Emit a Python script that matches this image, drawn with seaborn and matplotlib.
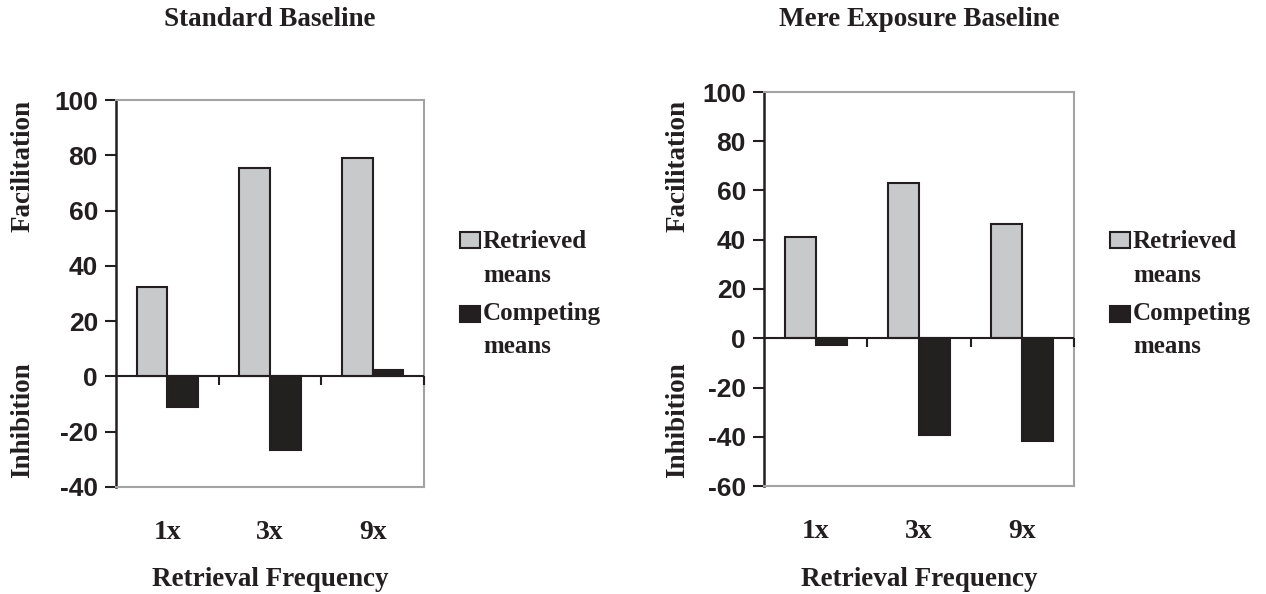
import matplotlib
matplotlib.use("Agg")
import matplotlib.pyplot as plt
import seaborn as sns
import pandas as pd
from matplotlib.patches import Rectangle

# data
frequencies = ["1x", "3x", "9x"]
series = ["Retrieved means", "Competing means"]
standard_retrieved = [32.5, 75.5, 79.0]
standard_competing = [-11.0, -26.5, 2.3]
exposure_retrieved = [41.0, 63.0, 46.3]
exposure_competing = [-2.8, -39.3, -41.8]
titles = ["Standard Baseline", "Mere Exposure Baseline"]
standard_yticks = [-40, -20, 0, 20, 40, 60, 80, 100]
exposure_yticks = [-60, -40, -20, 0, 20, 40, 60, 80, 100]

sns.set_theme(style="white")
plt.rcParams["font.family"] = ["Liberation Serif", "DejaVu Serif"]

INK = "#231f20"
GREY_FILL = "#c8c9cb"
FRAME = "#a3a3a3"
W, H = 1266, 594


def fx(px):
    return px / W


def fy(py):
    return 1 - py / H


def make_df(retrieved, competing):
    rows = []
    for f, r, c in zip(frequencies, retrieved, competing):
        rows.append({"freq": f, "series": series[0], "value": r})
        rows.append({"freq": f, "series": series[1], "value": c})
    return pd.DataFrame(rows)


def draw_panel(ax, df, yticks):
    sns.barplot(data=df, x="freq", y="value", hue="series", order=frequencies,
                hue_order=series, palette={series[0]: GREY_FILL, series[1]: INK},
                width=0.6, edgecolor=INK, linewidth=1.5, legend=False,
                errorbar=None, ax=ax)
    ax.set_xlim(-0.5, 2.5)
    ax.set_ylim(yticks[0], yticks[-1])
    ax.set_yticks(yticks)
    ax.set_yticklabels([str(t) for t in yticks], family="Liberation Sans",
                       fontweight="bold", fontsize=19, color=INK)
    ax.tick_params(axis="y", direction="out", length=8, width=1.5, color=INK,
                   pad=5, left=True)
    ax.set_xticks(range(len(frequencies)))
    ax.set_xticklabels(frequencies, fontweight="bold", fontsize=20, color=INK)
    ax.tick_params(axis="x", length=0, pad=24)
    ax.set_xlabel("")
    ax.set_ylabel("")
    for side in ["top", "right", "bottom"]:
        ax.spines[side].set_color(FRAME)
        ax.spines[side].set_linewidth(1.5)
        ax.spines[side].set_visible(True)
    ax.spines["left"].set_color(INK)
    ax.spines["left"].set_linewidth(1.8)
    ax.spines["left"].set_visible(True)
    # zero line with category-boundary ticks
    ax.axhline(0, color=INK, linewidth=1.5, zorder=3)
    span = yticks[-1] - yticks[0]
    tick_len = span * 9 / 390
    ax.vlines([0.5, 1.5, 2.5], 0, -tick_len, color=INK, linewidth=1.5,
              clip_on=False, zorder=3)


fig = plt.figure(figsize=(12.66, 5.94), dpi=100)
ax1 = fig.add_axes([fx(116), fy(487), fx(424) - fx(116), fy(100) - fy(487)])
ax2 = fig.add_axes([fx(764), fy(486), fx(1074) - fx(764), fy(92) - fy(486)])

draw_panel(ax1, make_df(standard_retrieved, standard_competing), standard_yticks)
draw_panel(ax2, make_df(exposure_retrieved, exposure_competing), exposure_yticks)

label_kw = dict(fontweight="bold", fontsize=19.5, color=INK, ha="center", va="center")
for ax, title, ylab_x in [(ax1, titles[0], 23), (ax2, titles[1], 678)]:
    pos = ax.get_position()
    cx = (pos.x0 + pos.x1) / 2
    fig.text(fx(W * cx), fy(20), title, **label_kw)
    fig.text(fx(W * cx), fy(579), "Retrieval Frequency", **label_kw)
    fig.text(fx(ylab_x), fy(166), "Facilitation", rotation=90, **label_kw)
    fig.text(fx(ylab_x), fy(420), "Inhibition", rotation=90, **label_kw)

# legends
for sq_x in [460, 1110]:
    for (top, base1, base2, color, words) in [
        (232, 248, 282, GREY_FILL, ("Retrieved", "means")),
        (306, 320, 353, INK, ("Competing", "means")),
    ]:
        fig.patches.append(Rectangle((fx(sq_x), fy(top + 16)), fx(20), 16 / H,
                                     transform=fig.transFigure,
                                     facecolor=color, edgecolor=INK, linewidth=1.5))
        fig.text(fx(sq_x + 23), fy(base1), words[0], fontweight="bold",
                 fontsize=18, color=INK, ha="left", va="baseline")
        fig.text(fx(sq_x + 23), fy(base2), words[1], fontweight="bold",
                 fontsize=18, color=INK, ha="left", va="baseline")

fig.savefig("out.png", dpi=100)
